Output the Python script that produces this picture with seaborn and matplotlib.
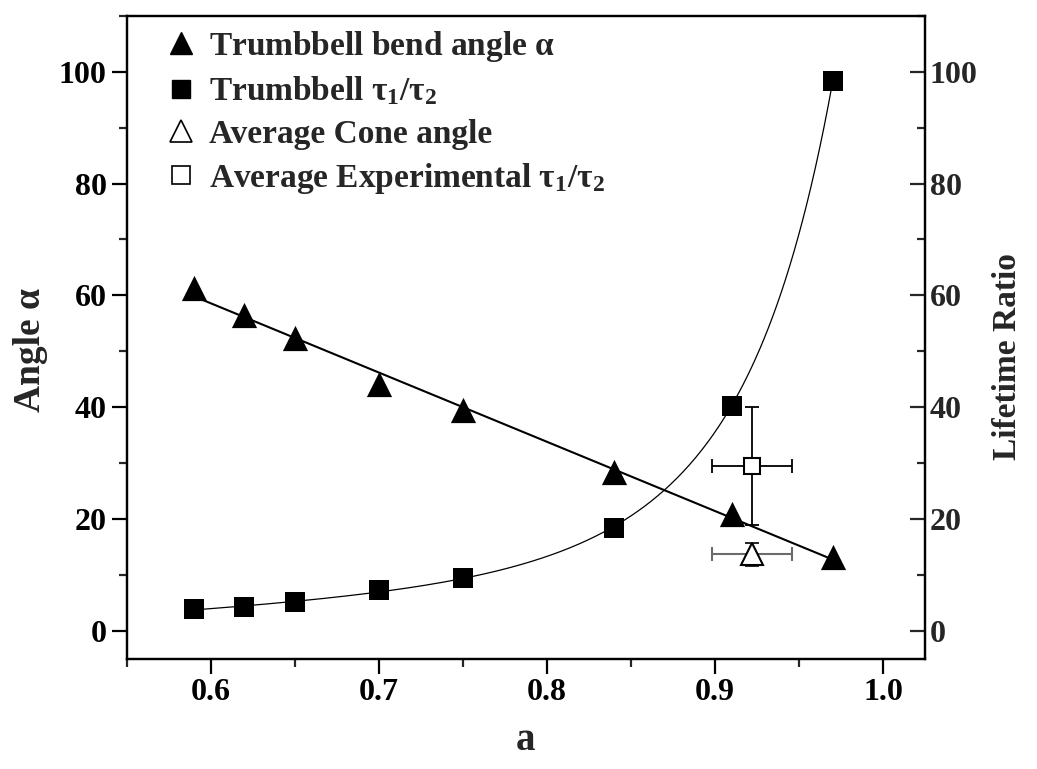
import numpy as np
import matplotlib
matplotlib.use("Agg")
import matplotlib.pyplot as plt
import seaborn as sns
import pandas as pd
from matplotlib.lines import Line2D
from matplotlib.ticker import MultipleLocator

# Trumbbell model results versus the parameter a
a_vals = [0.59, 0.62, 0.65, 0.70, 0.75, 0.84, 0.91, 0.97]
bend_angle = [61.3, 56.5, 52.4, 44.1, 39.5, 28.5, 21.0, 13.2]
tau_ratio = [3.9, 4.3, 5.2, 7.3, 9.4, 18.5, 40.3, 98.4]

# Averaged experimental values with their uncertainties
exp_a, exp_a_err = 0.922, 0.0236
cone_angle, cone_angle_err = 13.7, 2.0
exp_ratio, exp_ratio_err = 29.5, 10.6

legend_labels = [
    r"Trumbbell bend angle $\mathrm{\alpha}$",
    r"Trumbbell $\mathrm{\tau_1/\tau_2}$",
    "Average Cone angle",
    r"Average Experimental $\mathrm{\tau_1/\tau_2}$",
]

sns.set_theme(style="ticks")
plt.rcParams["font.family"] = ["Liberation Serif", "DejaVu Serif"]
plt.rcParams["font.weight"] = "bold"
plt.rcParams["mathtext.fontset"] = "custom"
plt.rcParams["mathtext.rm"] = "Liberation Serif"
plt.rcParams["mathtext.it"] = "Liberation Serif:italic"
plt.rcParams["mathtext.bf"] = "Liberation Serif:bold"

df = pd.DataFrame({"a": a_vals, "angle": bend_angle, "ratio": tau_ratio})

# Smooth fits: straight line for the angle, log-cubic for the ratio
lin = np.polyfit(df["a"], df["angle"], 1)
cub = np.polyfit(df["a"], np.log(df["ratio"]), 3)
xs = np.linspace(min(a_vals), max(a_vals), 300)
fit_df = pd.DataFrame({"a": xs,
                       "angle": np.polyval(lin, xs),
                       "ratio": np.exp(np.polyval(cub, xs))})

fig = plt.figure(figsize=(10.37, 7.69), dpi=100)
ax = fig.add_axes([0.1222, 0.143, 0.7698, 0.8366])
ax2 = ax.twinx()

# Left axis: bend angle
sns.lineplot(data=fit_df, x="a", y="angle", ax=ax, color="black", lw=1.5)
sns.scatterplot(data=df, x="a", y="angle", ax=ax, marker="^", s=330,
                color="black", edgecolor="black", linewidth=0, zorder=3)
ax.errorbar(exp_a, cone_angle, xerr=exp_a_err, fmt="none", ecolor="#6b6b6b",
            elinewidth=1.5, capsize=5, capthick=1.5, zorder=3)
ax.errorbar(exp_a, cone_angle, yerr=cone_angle_err, fmt="none", ecolor="black",
            elinewidth=1.2, capsize=5, capthick=1.2, zorder=3)
ax.plot([exp_a], [cone_angle], marker="^", ms=16, mfc="white", mec="black",
        mew=1.5, ls="none", zorder=4)

# Right axis: lifetime ratio
sns.lineplot(data=fit_df, x="a", y="ratio", ax=ax2, color="black", lw=0.9)
sns.scatterplot(data=df, x="a", y="ratio", ax=ax2, marker="s", s=200,
                color="black", edgecolor="black", linewidth=0, zorder=3)
ax2.errorbar(exp_a, exp_ratio, xerr=exp_a_err, yerr=exp_ratio_err, fmt="none",
             ecolor="black", elinewidth=1.3, capsize=5, capthick=1.3, zorder=3)
ax2.plot([exp_a], [exp_ratio], marker="s", ms=12, mfc="white", mec="black",
         mew=1.5, ls="none", zorder=4)

for a in (ax, ax2):
    a.set_xlim(0.55, 1.025)
    a.set_ylim(-5, 110)
    for s in a.spines.values():
        s.set_linewidth(1.6)
        s.set_color("black")

ax.xaxis.set_major_locator(MultipleLocator(0.1))
ax.xaxis.set_minor_locator(MultipleLocator(0.05))
ax.yaxis.set_major_locator(MultipleLocator(20))
ax.yaxis.set_minor_locator(MultipleLocator(10))
ax2.yaxis.set_major_locator(MultipleLocator(20))
ax2.yaxis.set_minor_locator(MultipleLocator(10))
ax.set_xticks([0.6, 0.7, 0.8, 0.9, 1.0])
ax.set_xticklabels(["0.6", "0.7", "0.8", "0.9", "1.0"])

ax.tick_params(axis="both", which="major", direction="out", length=11, width=1.6,
               labelsize=23, top=False, right=False, colors="black")
ax.tick_params(axis="both", which="minor", direction="out", length=6, width=1.6,
               top=False, right=False)
ax.tick_params(axis="x", pad=3)
ax2.tick_params(axis="y", which="major", direction="in", length=11, width=1.6,
                labelsize=23, right=True, left=False)
ax2.tick_params(axis="y", which="minor", direction="in", length=6, width=1.6,
                right=True, left=False)
ax2.tick_params(axis="x", which="both", bottom=False, top=False)
for lab in ax.get_xticklabels() + ax.get_yticklabels() + ax2.get_yticklabels():
    lab.set_fontweight("bold")

ax.set_xlabel("a", fontsize=28, fontweight="bold")
ax.set_ylabel("Angle α", fontsize=27, fontweight="bold")
ax2.set_ylabel("Lifetime Ratio", fontsize=24, fontweight="bold")
ax.xaxis.set_label_coords(0.5, -0.098)
ax.yaxis.set_label_coords(-0.098, 0.48)
ax2.yaxis.set_label_coords(1.084, 0.47)

handles = [
    Line2D([], [], marker="^", ls="none", color="black", ms=16),
    Line2D([], [], marker="s", ls="none", color="black", ms=13),
    Line2D([], [], marker="^", ls="none", mfc="white", mec="black", ms=16, mew=1.2),
    Line2D([], [], marker="s", ls="none", mfc="white", mec="black", ms=13, mew=1.2),
]
ax2.legend(handles, legend_labels, loc="upper left", bbox_to_anchor=(0.024, 1.008),
           frameon=False, handletextpad=0.35, labelspacing=0.33,
           handlelength=1.0, borderaxespad=0.15, prop={"weight": "bold", "size": 24})

fig.savefig("out.png", dpi=100)
